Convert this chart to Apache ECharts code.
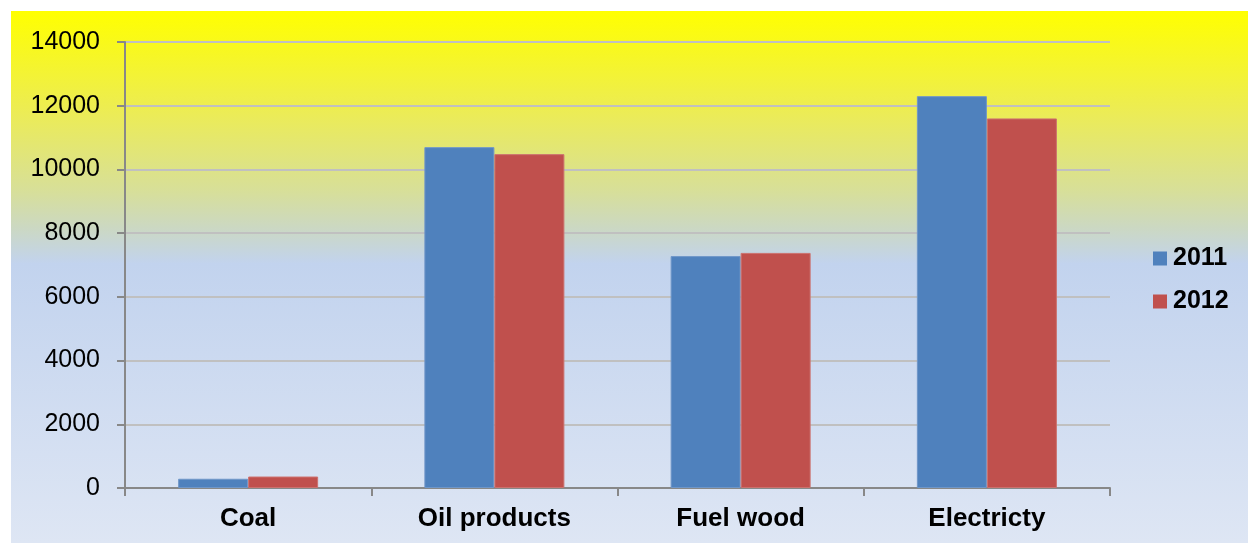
<!DOCTYPE html>
<html>
<head>
    <meta charset="utf-8">
    <title>Energy consumption</title>
    <script src="https://cdn.jsdelivr.net/npm/echarts@6/dist/echarts.min.js"></script>
    <style>
        html, body { margin: 0; padding: 0; background: #fff; }
    </style>
</head>
<body>
<div id="main" style="width: 1248px;height:543px;"></div>
<script type="text/javascript">
    var categories = ['Coal', 'Oil products', 'Fuel wood', 'Electricty'];
    var values2011 = [290, 10700, 7280, 12300];
    var values2012 = [360, 10480, 7380, 11600];
    var yTicks = [0, 14000, 2000]; // min, max, step

    var myChart = echarts.init(document.getElementById('main'));

    var option = {
        animation: false,
        graphic: [{
            type: 'rect',
            left: 11, top: 11,
            shape: { width: 1237, height: 532 },
            z: -10,
            style: {
                fill: new echarts.graphic.LinearGradient(0, 0, 0, 1, [
                    { offset: 0, color: '#ffff00' },
                    { offset: 0.19, color: '#ecec55' },
                    { offset: 0.34, color: '#d7df9a' },
                    { offset: 0.41, color: '#cbd8c4' },
                    { offset: 0.475, color: '#c2d3ee' },
                    { offset: 1, color: '#dee6f4' }
                ])
            }
        }],
        grid: { left: 125, right: 138, top: 42, bottom: 55 },
        legend: {
            orient: 'vertical',
            left: 1153,
            top: 246,
            padding: 0,
            itemWidth: 14,
            itemHeight: 14,
            itemGap: 18,
            icon: 'rect',
            itemStyle: { borderWidth: 0 },
            textStyle: { fontFamily: 'Liberation Sans', fontSize: 25, fontWeight: 'bold', color: '#000', padding: [0, 0, 0, 1] },
            data: ['2011', '2012']
        },
        xAxis: {
            type: 'category',
            data: categories,
            axisLine: { lineStyle: { color: '#888', width: 2 } },
            axisTick: { show: true, length: 8, lineStyle: { color: '#888', width: 2 } },
            axisLabel: { fontFamily: 'Liberation Sans', fontSize: 26, fontWeight: 'bold', color: '#000', margin: 18 }
        },
        yAxis: {
            type: 'value',
            min: yTicks[0],
            max: yTicks[1],
            interval: yTicks[2],
            axisLine: { show: true, lineStyle: { color: '#888', width: 2 } },
            axisTick: { show: true, length: 8, lineStyle: { color: '#888', width: 2 } },
            splitLine: { lineStyle: { color: '#c0c0c0', width: 2 } },
            axisLabel: {
                fontFamily: 'Liberation Sans', fontSize: 25, color: '#000', margin: 25,
                formatter: function (v) { return String(v); }
            }
        },
        series: [
            {
                name: '2011',
                type: 'bar',
                data: values2011,
                barWidth: 70,
                barGap: '0%',
                itemStyle: { color: '#4f81bd', borderColor: '#6f96c8', borderWidth: 1 }
            },
            {
                name: '2012',
                type: 'bar',
                data: values2012,
                barWidth: 70,
                barGap: '0%',
                itemStyle: { color: '#c0504d', borderColor: '#cc716e', borderWidth: 1 }
            }
        ]
    };

    myChart.setOption(option);
</script>
</body>
</html>
